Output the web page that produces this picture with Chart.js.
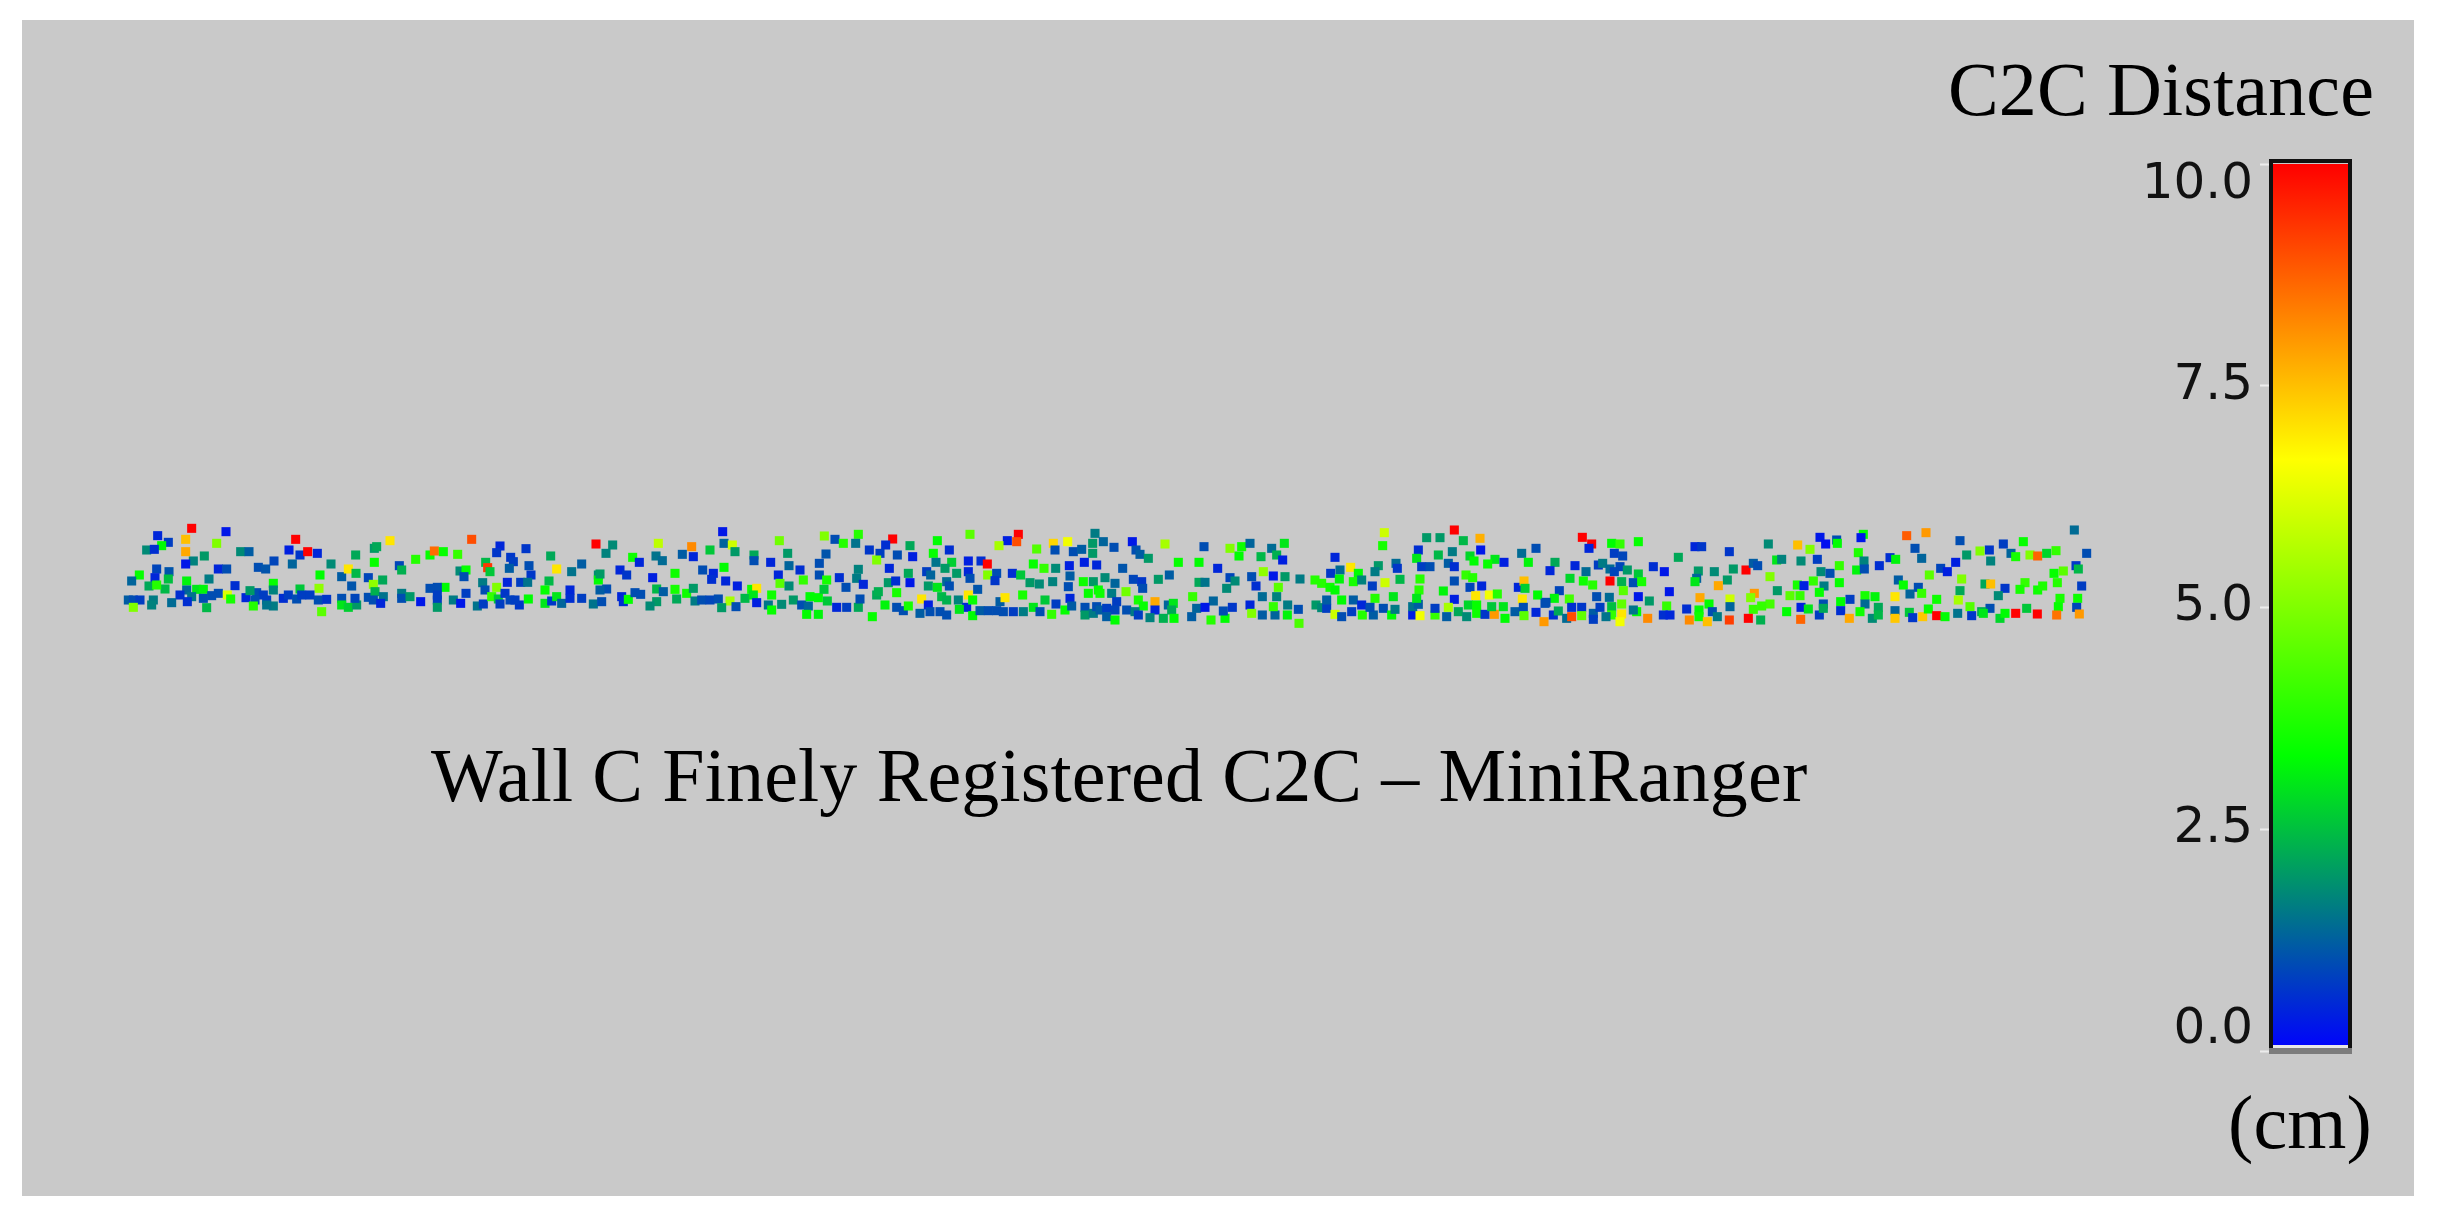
<!DOCTYPE html>
<html>
<head>
<meta charset="utf-8">
<title>Wall C Finely Registered C2C – MiniRanger</title>
<script src="https://cdn.jsdelivr.net/npm/chart.js@4"></script>
<style>
html,body{margin:0;padding:0;background:#fff;width:2440px;height:1222px;overflow:hidden}
canvas{position:absolute;filter:blur(0.6px)}
#cloud{left:0;top:0}
#bar{left:2100px;top:100px}
</style>
</head>
<body>
<canvas id="cloud" width="2440" height="1222"></canvas>
<canvas id="bar" width="300" height="1000"></canvas>
<script>
const chartTitle = 'Wall C Finely Registered C2C – MiniRanger';
const barTitle = 'C2C Distance';
const barUnit = '(cm)';
const scaleTicks = [0, 2.5, 5, 7.5, 10];
const scaleStops = [0, 3.33, 6.67, 10];
const scaleColors = [[0,0,255],[0,255,0],[255,255,0],[255,0,0]];
// where each section of the wall begins along the wall
const sectionStart = [0, 1500, 3000, 4500];
// each point: position along section, depth below top of section, C2C distance in cm
const sectionA = [[275,85,10],[378,95,0.3],[173,107,0.5],[257,118,7.5],[205,127,0.8],[350,130,5],[185,137,3.3],[140,150,1.8],[163,148,0.6],[257,155,7.8],[313,168,2],[280,183,1.7],[257,192,0.3],[422,155,1.8],[447,155,1.2],
[587,118,10],[567,150,0.4],[600,165,0.7],[623,155,10],[652,160,0.5],[522,183,0.9],[577,192,1.3],[693,192,1.8],[475,202,1],[497,207,1.1],[767,165,2.2],[823,145,2],[830,140,2.2],[870,122,7],[823,187,3.4],[898,197,0.9],[905,210,2.3],[947,178,3.8],[990,165,3.4],[1003,153,8.6],[1030,155,3.4],[1073,163,4],[1115,118,9],[1200,138,0.5],[1190,158,0.7],[1232,172,0.7],[1240,185,0.8],[1278,146,0.7],[1157,187,2.4],[1163,203,9.3],[1170,215,2.6],[1352,168,2.2],[1488,132,10],[1445,192,1.2],[1370,207,7],[1415,215,1.5],[1287,197,1],[1228,205,1.2],[1293,225,0.7],
[118,225,3.4],[170,207,0.9],[207,215,1.1],[95,243,1.3],[165,233,0.5],[205,237,2.5],[260,243,3.2],[327,237,1.6],[355,207,0.5],[380,207,1],[147,258,2.2],[195,267,2.4],[170,255,3.8],[405,257,0.6],[660,225,3.3],[520,250,3.4],[600,267,2.6],[725,230,1.2],[745,207,7],[768,220,2.4],[805,233,0.9],[848,240,2.2],[755,258,1.1],[820,253,5.2],[1080,213,1.8],[1098,210,3.4],[1092,230,1],[1148,248,1.6],[1222,247,0.5],[1262,247,0.8],[1283,247,1.5],[1190,262,5],[1347,243,2.4],[1035,262,3.3],[1012,262,1],[990,265,1],[657,265,5.2],[905,280,1.6],
[260,270,1.3],[290,268,3],[310,268,3.2],[240,285,0.6],[355,280,1],[335,287,1],[310,295,1],[275,290,1.5],[262,305,0.6],[382,285,6.2],[392,297,3.6],[215,308,1.4],[160,300,1.6],[155,315,1.7],[85,300,1.2],[100,300,1],[120,300,0.8],[100,322,5],[320,323,2.4],[438,293,0.5],[470,278,1],[450,272,2],[520,270,1.7],[490,285,0.8],[465,300,1],[500,300,0.8],[520,318,1.6],[500,315,1.5],[460,318,3.8],[550,295,0.6],[565,285,0.8],[590,297,1],[605,285,0.8],[630,285,0.8],[655,300,1],[680,298,0.7],[665,335,4.5],[725,295,1],[725,315,3],[745,322,2.7],[770,315,2],[765,295,0.9],[805,292,1],[825,275,2.3],[820,300,1],[850,290,1.5],[842,310,0.5],[905,295,1],[930,290,2],[962,305,0.3],[1012,285,0.8],[1012,300,0.8],[1012,322,2],[1060,300,1.6],[1082,310,0.3],[1098,280,0.8],[1132,318,1.5],[1150,312,0.8],[1155,270,1],[1175,290,4],[1195,297,2.6],[1215,280,0.7],[1200,312,0.8],[1230,300,0.9],[1258,315,0.7],[1245,300,0.8],[1285,297,3.3],[1335,270,3.4],[1335,310,3],[1355,303,0.7],[1370,290,3],[1385,310,1.3],[1410,270,0.5],[1410,295,0.6],[1445,295,0.8],[1480,312,1.5],[1495,225,1.8],[1495,240,3.3]];
const sectionB = [[368,95,0.3],[372,130,1.3],[397,135,6],[405,155,2],[175,130,5.8],[275,140,8.2],[38,135,1.8],[18,160,1.7],[98,172,3.5],[118,187,0.5],[168,168,1.5],[187,182,1.4],[247,163,1.2],[280,170,0.5],[330,150,2.6],[538,122,4.8],[673,108,5],[705,118,1],[775,103,3.8],[730,130,3.8],[767,130,1.5],[878,117,10],[857,135,0.6],[930,137,2.2],[808,150,0.7],[840,160,0.8],[892,165,1],[938,170,0.4],[1012,122,3.3],[1110,103,4.5],[1048,150,0.6],[1000,160,3.4],[1255,103,10],[1250,125,9],[1222,122,0.4],[1197,137,5.5],[1310,147,4.4],[1360,130,7.2],[1403,125,6.5],[1365,150,1],[1420,155,1],[1445,148,1.2],[1485,100,1.6],[1478,130,2],[1478,160,2],[462,165,2.2],[462,182,1],[512,187,0.5],[563,160,2],[678,162,1.1],[658,190,1],[567,197,1.3],[600,210,0.6],
[60,210,0.5],[80,225,0.7],[0,222,2],[158,233,0.4],[225,220,3.5],[308,210,1],[340,220,0.5],[335,238,0.6],[372,202,3.3],[377,243,0.5],[412,258,0.4],[535,225,0.5],[540,250,4.5],[610,240,4],[567,258,1.8],[658,225,1],[680,240,3.6],[718,233,0.6],[738,262,1],[775,208,1.7],[770,235,1.6],[790,253,0.5],[868,205,0.5],[925,220,2.2],[865,248,2],[887,243,0.6],[930,248,0.3],[830,180,5],[980,215,0.8],[992,225,1.3],[1008,187,1.5],[1055,187,2.7],[1035,205,2],[1070,220,2],[1105,183,0.4],[1143,183,0.6],[1162,192,10],[1105,215,0.5],[1110,235,1],[1163,225,5],[1190,220,1],[1185,242,0.7],[1237,220,0.6],[1262,225,2.6],[1300,192,3.4],[1332,205,4],[1367,205,1.8],[1408,197,0.4],[1453,187,0.4],[1490,195,0.5],[1410,228,1.2],[1405,260,1],[1358,245,1.7],[1290,248,2],[1318,252,1.8],[1450,245,3.5],[1480,245,2],[1040,245,1.4],[985,258,2],[1012,262,3],[1048,258,1],[1133,268,1.1],
[20,267,1],[0,270,1.2],[65,290,0.5],[70,305,0.6],[85,298,3.4],[105,278,1],[122,283,1],[5,305,1],[170,267,2.4],[190,275,1.2],[170,305,2],[150,318,1.8],[225,268,3.6],[230,297,2.2],[260,280,3.5],[280,265,2],[285,303,1.6],[305,300,1],[330,300,0.9],[355,297,1],[390,303,5.5],[365,323,2],[408,320,1],[435,295,2.4],[455,268,3.5],[470,265,7],[460,285,3],[470,308,0.4],[505,315,1.5],[515,285,3.5],[515,330,3.4],[545,313,1.8],[580,300,2],[605,315,1],[625,318,1.3],[620,343,3.3],[655,343,3.2],[630,290,3.3],[655,293,3.3],[682,303,2.6],[672,268,2.6],[710,322,0.5],[740,322,0.8],[775,322,2.2],[780,297,1],[830,285,2.2],[835,275,2.3],[890,278,3.6],[855,315,3.2],[817,350,3.4],[890,322,1],[910,332,1],[925,318,3.6],[965,297,7],[985,315,0.4],[960,340,1.2],[990,335,1],[1020,335,1],[1040,345,1],[1025,290,2.4],[1040,300,2.3],[1075,300,1.7],[1100,322,0.5],[1078,328,3],[1105,285,7],[1118,300,3.4],[1118,347,3.3],[1140,332,1.2],[1165,332,1],[1190,332,1],[1210,335,1],[1240,335,0.8],[1200,305,1.2],[1215,293,7],[1270,335,1.6],[1268,285,3.6],[1300,322,3],[1320,335,1],[1335,300,2.6],[1355,343,4],[1368,312,0.8],[1395,330,3.4],[1410,295,0.5],[1415,318,1.2],[1455,322,1],[1455,345,2],[1480,340,1.6],[1465,280,3.4],[1495,270,3.4],[1490,320,1]];
const sectionC = [[1063,90,10],[853,98,6],[980,113,2],[1020,113,2],[1090,122,2.4],[1140,115,7.7],[1447,112,10],[1475,132,10],[1467,145,0.5],[848,137,3.6],[955,150,0.6],[1142,150,0.3],[1057,155,1.6],[1015,165,2.4],[1110,168,2.8],[1122,183,3.3],[1265,160,1.4],[1308,145,1],[1285,187,3.2],[1185,178,3],[1163,192,3.4],[1212,187,0.4],[1365,187,2.2],[1425,197,0.5],[1458,215,1.4],[1350,212,0.5],[1495,195,0.8],[10,125,1.3],[42,142,1],[97,125,0.3],[195,132,5.5],[108,150,1],[120,163,1.2],[145,175,2],[235,187,3.4],[297,187,3.3],[312,140,1],[390,145,5],[425,140,3.5],[450,130,1.3],[417,168,3.3],[515,145,1.4],[553,130,3],[483,170,2.4],[530,165,2.3],[548,180,0.4],[353,205,0.5],[705,172,0.5],[752,202,7],[835,197,2],[888,190,1.4],[892,205,0.7],[825,215,1.6],[720,210,1.4],[692,220,0.7],[775,220,3.3],[950,175,3],[965,200,0.8],[990,200,1],[1045,190,1.2],[1063,200,0.6],[68,205,1.1],
[15,233,1.8],[45,250,1.3],[35,280,1.6],[100,238,0.9],[125,245,0.7],[128,265,1],[78,275,4.8],[175,238,2],[208,225,1.2],[490,215,5.2],[390,233,0.9],[405,243,1.8],[297,247,2.2],[315,247,1.5],[380,265,1.8],[455,230,1],[468,258,0.6],[520,228,0.3],[555,230,2],[600,237,1.6],[535,262,4.5],[278,290,4],[340,303,1.3],[487,290,1.4],[530,290,1.7],[645,240,3.8],[665,250,3.8],[690,262,3.5],[705,270,3.3],[718,237,3.2],[760,245,3.6],[785,240,1.7],[817,258,0.8],[855,248,6],[900,238,2.4],[960,237,3.8],[957,270,3.8],[1030,273,3.2],[1063,243,1],[1098,225,4],[1118,233,3.8],[1110,262,0.9],[1145,258,0.5],[1127,287,7],[1168,285,6.5],[1192,282,3.8],[1255,262,0.5],[1272,243,7.5],[1275,265,2.7],[1267,297,7],[1313,285,3.3],[1378,272,0.9],[1410,235,2.8],[1450,243,3.5],[1478,255,3.8],[1363,295,3.2],[1408,297,4.2],[1338,307,1],[1063,298,0.4],[1490,290,1],
[0,280,3.5],[0,330,1.2],[20,325,0.8],[50,305,0.8],[45,330,0.9],[20,350,1.2],[45,360,3.3],[80,330,1],[115,300,3.6],[130,318,3.4],[105,335,1.6],[115,345,0.8],[165,305,7.8],[165,330,0.5],[150,353,1.7],[190,355,2.3],[205,315,1.3],[220,310,3],[215,330,2.2],[222,355,3.3],[275,350,1.2],[290,325,1.3],[315,322,0.3],[333,360,3.8],[375,355,3.3],[370,333,1],[397,322,0.7],[450,315,0.5],[455,340,5],[487,345,1.2],[525,345,1.3],[520,320,4],[562,345,3.2],[563,315,1.6],[595,328,1],[597,370,4.3],[648,315,2],[665,323,1.8],[680,325,0.8],[680,300,1.2],[705,343,6],[725,350,1],[725,300,3.3],[760,300,1.2],[755,335,0.8],[787,345,3.8],[785,315,0.5],[820,345,1.2],[825,295,3.8],[810,322,1],[850,325,1],[875,345,3.3],[880,290,3],[885,328,1.6],[938,345,0.4],[938,320,1.5],[960,347,6.5],[955,313,1.2],[950,295,3],[1005,345,4],[1005,325,0.8],[1040,350,1.2],[1045,322,5.5],[1075,335,2.2],[1100,350,1.8],[1105,315,2.8],[1130,340,3.5],[1130,315,3.4],[1155,343,0.7],[1183,343,8],[1175,320,2.6],[1210,320,3],[1215,355,3.3],[1245,335,1.2],[1270,322,1],[1272,347,4.5],[1308,337,0.5],[1332,365,8],[1335,310,1],[1360,345,0.6],[1375,333,2.2],[1400,355,1.4],[1415,350,9],[1415,322,0.6],[1445,322,0.7],[1445,347,4.6],[1480,340,1.2],[1480,358,0.8]];
const sectionD = [[1423,90,1.4],[920,107,8.8],[978,98,8],[790,103,3.4],[783,113,0.3],[660,112,0.3],[710,120,1],[677,132,0.2],[712,130,3.3],[1080,122,1],[1210,132,0.8],[1270,125,3.4],[505,132,1.8],[593,135,7.5],[630,148,5],[35,130,3.3],[60,132,4],[115,125,3.4],[285,140,0.5],[305,140,0.7],[388,155,0.7],[945,145,1],[775,158,3.7],[1168,150,0.7],[1140,153,5],[1233,160,1.3],[1100,165,2],[1290,165,5],[1313,168,8.7],[1340,160,2.8],[1368,152,4],[1460,160,1],[43,160,0.8],[68,168,0.9],[235,172,2.2],[530,180,3],[545,178,1.7],[603,183,1.8],[652,178,0.8],[718,197,4],[792,183,1.7],[870,173,0.6],[887,178,3.2],[965,175,1.3],[1067,187,0.4],[1172,183,1.7],[1247,170,3.6],[160,200,0.6],[193,215,0.3],[8,190,1.6],[30,207,1.4],[60,200,0.9],[82,210,2],[43,215,0.9],[115,222,2.6],[295,213,2],[343,215,1.8],[400,207,2],[438,210,10],[460,190,1.2],[473,197,1],[510,230,5],[663,215,1.8],[690,220,1],[770,210,3.2],[793,207,1],[838,197,0.6],[988,225,4.5],[1022,205,0.9],[1042,215,0.4],[1428,197,0.7],[1435,207,2.4],[1390,213,4.5],[1362,220,3.4],
[30,243,10],[65,245,2.3],[100,248,1],[125,245,3.6],[290,235,1.3],[285,245,3],[382,240,2],[355,257,7.8],[640,243,4],[592,255,3.6],[612,257,0.4],[672,258,1.6],[718,248,3.4],[895,240,1.2],[910,255,3.4],[955,262,1],[930,282,1.3],[965,280,4],[1085,237,5],[1080,272,2.2],[1155,252,2.2],[1172,252,7.5],[1215,265,0.7],[1275,248,4],[1260,268,3.6],[1313,270,3.5],[1328,258,3.7],[1372,248,3.8],[1445,258,0.8],[208,275,0.3],[70,272,4.5],[463,280,8],[532,272,2],[658,277,3.4],
[115,290,0.3],[28,292,1.4],[148,303,2],[300,293,7.8],[327,312,3.3],[390,297,6],[452,293,5],[200,318,4],[65,312,4.6],[35,320,2.5],[570,287,4.5],[600,287,4],[885,290,7],[795,287,3.6],[825,290,3.2],[750,298,0.8],[722,305,3.3],[1010,298,3.5],[1075,300,5.5],[1195,287,1.8],[1380,295,3.6],[1433,295,3.5],[670,312,1],[795,312,1.4],[510,312,4.2],[485,318,4],[460,328,4],[603,322,0.4],[625,327,3],[560,335,3.3],[1110,320,4.4],[1375,320,3.4],[1430,322,0.9],[1280,325,2.6],[1170,325,1],[1145,335,2.2],[835,322,2.2],
[0,322,0.8],[35,345,4],[65,342,7],[110,335,3.3],[100,330,1.5],[60,365,6.5],[143,355,8.2],[190,345,0.6],[210,345,0.5],[260,327,0.6],[268,360,8.2],[297,330,3.3],[297,350,3.5],[337,335,1],[352,350,1.6],[322,365,7.5],[390,320,1.3],[388,360,9.2],[445,355,10],[482,360,2.3],[602,358,8.7],[658,345,0.8],[670,325,2.2],[722,332,0.6],[748,355,7.8],[780,335,3.5],[817,355,1.8],[835,345,2.4],[885,332,1.3],[885,355,7.4],[928,337,2.6],[938,353,0.7],[968,350,7.4],[985,327,3.4],[1010,347,10],[1035,350,3.3],[1073,340,1.5],[1115,347,0.7],[1150,340,3],[1200,355,2.8],[1215,340,3.3],[1247,340,10],[1312,342,10],[1370,345,8.5],[1438,342,8],[18,350,1.5]];

function colorFor(d) {
  let i = 0;
  while (i < scaleStops.length - 2 && d > scaleStops[i + 1]) i++;
  const t = Math.min(1, Math.max(0, (d - scaleStops[i]) / (scaleStops[i + 1] - scaleStops[i])));
  const a = scaleColors[i], b = scaleColors[i + 1];
  return 'rgb(' + a.map((c, k) => Math.round(c + (b[k] - c) * t)).join(',') + ')';
}
const sections = [sectionA, sectionB, sectionC, sectionD];
const cloudPoints = [];
sections.forEach((s, i) => s.forEach(p => cloudPoints.push({x: sectionStart[i] + p[0], y: p[1], d: p[2]})));

const serif = '76px "Liberation Serif"';
const panelAndText = {
  id: 'panelAndText',
  beforeDraw(chart) {
    const {ctx, chartArea: a} = chart;
    ctx.save();
    ctx.fillStyle = '#c9c9c9';
    ctx.fillRect(a.left, a.top, a.right - a.left, a.bottom - a.top);
    ctx.restore();
  },
  afterDraw(chart) {
    const ctx = chart.ctx;
    ctx.save();
    ctx.fillStyle = '#000';
    ctx.font = serif;
    ctx.textBaseline = 'alphabetic';
    ctx.textAlign = 'left';
    ctx.letterSpacing = '0.15px';
    ctx.fillText(chartTitle, 431, 801);
    ctx.fillText(barTitle, 1948, 115);
    ctx.fillText(barUnit, 2228, 1148);
    ctx.restore();
  }
};

new Chart(document.getElementById('cloud'), {
  type: 'scatter',
  data: {datasets: [{
    label: barTitle,
    data: cloudPoints,
    showLine: false,
    pointStyle: 'rect',
    pointRadius: 6.4,
    pointBorderWidth: 0,
    pointBackgroundColor: c => colorFor(c.raw ? c.raw.d : 0)
  }]},
  options: {
    responsive: false,
    animation: false,
    layout: {padding: {left: 22, right: 26, top: 20, bottom: 26}},
    plugins: {legend: {display: false}, tooltip: {enabled: false}},
    scales: {
      x: {type: 'linear', display: false, min: -234, max: 6942},
      y: {type: 'linear', display: false, reverse: true, min: -1440, max: 2088}
    }
  },
  plugins: [panelAndText]
});

const barFrame = {
  id: 'barFrame',
  afterDatasetsDraw(chart) {
    const {ctx, chartArea: a} = chart;
    ctx.save();
    ctx.strokeStyle = '#111';
    ctx.lineWidth = 4;
    ctx.beginPath();
    ctx.moveTo(a.left - 2, a.bottom + 3);
    ctx.lineTo(a.left - 2, a.top - 3);
    ctx.lineTo(a.right + 2, a.top - 3);
    ctx.lineTo(a.right + 2, a.bottom + 3);
    ctx.stroke();
    ctx.fillStyle = '#7c7c7c';
    ctx.fillRect(a.left - 4, a.bottom - 3, a.right - a.left + 8, 6);
    ctx.fillStyle = '#e8e8e8';
    ctx.fillRect(a.left, a.bottom - 6, a.right - a.left, 3);
    ctx.restore();
  }
};

new Chart(document.getElementById('bar'), {
  type: 'bar',
  data: {labels: [barTitle], datasets: [{
    data: [[scaleTicks[0], scaleTicks[scaleTicks.length - 1]]],
    barPercentage: 1,
    categoryPercentage: 1,
    borderWidth: 0,
    backgroundColor(c) {
      const y = c.chart.scales.y;
      const a = c.chart.chartArea;
      if (!y || !a) return 'blue';
      const y0 = y.getPixelForValue(0), y1 = y.getPixelForValue(10);
      if (!Number.isFinite(y0) || !Number.isFinite(y1)) return 'blue';
      const g = c.chart.ctx.createLinearGradient(0, y0, 0, y1);
      scaleStops.forEach(s => g.addColorStop(s / 10, colorFor(s)));
      return g;
    }
  }]},
  options: {
    responsive: false,
    animation: false,
    layout: {padding: {left: 0, right: 52, top: 64, bottom: 32}},
    plugins: {legend: {display: false}, tooltip: {enabled: false}},
    scales: {
      x: {display: false},
      y: {
        min: 0, max: 10,
        afterFit(s) { s.width = 173; },
        afterBuildTicks(s) { s.ticks = scaleTicks.map(v => ({value: v})); },
        border: {display: false},
        grid: {drawOnChartArea: false, drawTicks: true, tickLength: 13, tickWidth: 2, tickColor: '#ececec', color: '#ececec'},
        ticks: {
          padding: 7,
          color: '#111',
          autoSkip: false,
          maxRotation: 0,
          font: {family: '"DejaVu Sans"', size: 50, lineHeight: '42px'},
          callback(v) {
            const t = Number(v).toFixed(1);
            if (v === 10) return ['', t];
            if (v === 0) return [t, ''];
            return t;
          }
        }
      }
    }
  },
  plugins: [barFrame]
});
</script>
</body>
</html>
